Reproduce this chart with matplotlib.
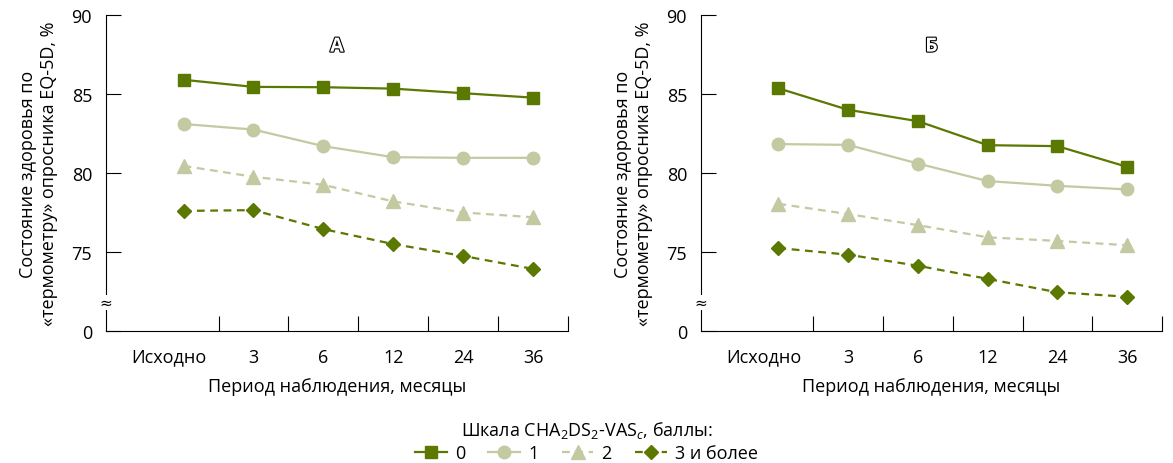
import matplotlib
matplotlib.use('Agg')
import matplotlib.pyplot as plt
import matplotlib.patheffects as pe
import numpy as np

plt.rcParams['font.family'] = ['Open Sans', 'DejaVu Sans']
plt.rcParams['mathtext.fontset'] = 'custom'
plt.rcParams['mathtext.rm'] = 'Open Sans'
plt.rcParams['mathtext.it'] = 'Open Sans:italic'

# data
periods = ['Исходно', '3', '6', '12', '24', '36']
groups = ['0', '1', '2', '3 и более']

panel_a = {
    '0': [85.9, 85.45, 85.43, 85.34, 85.05, 84.77],
    '1': [83.1, 82.75, 81.7, 81.0, 80.96, 80.96],
    '2': [80.45, 79.76, 79.25, 78.2, 77.5, 77.2],
    '3 и более': [77.6, 77.65, 76.45, 75.5, 74.75, 73.93],
}
panel_b = {
    '0': [85.36, 84.0, 83.28, 81.76, 81.7, 80.39],
    '1': [81.83, 81.78, 80.6, 79.49, 79.19, 78.96],
    '2': [78.05, 77.4, 76.7, 75.93, 75.7, 75.43],
    '3 и более': [75.25, 74.83, 74.13, 73.3, 72.45, 72.17],
}
panel_titles = ['А', 'Б']

dark = '#5b7800'
light = '#c3c9a1'
styles = {
    '0': dict(color=dark, marker='s', ms=8.5, ls='-'),
    '1': dict(color=light, marker='o', ms=9, ls='-'),
    '2': dict(color=light, marker='^', ms=9.5, ls=(0, (3.5, 2.5))),
    '3 и более': dict(color=dark, marker='D', ms=7.5, ls=(0, (3.5, 2.5))),
}
fs = 13

fig = plt.figure(figsize=(11.73, 4.64), dpi=100)
ax_a = fig.add_axes([106 / 1173, 132 / 464, 462 / 1173, 316 / 464])
ax_b = fig.add_axes([701 / 1173, 132 / 464, 461 / 1173, 316 / 464])

x = np.arange(len(periods))
label_pos = [-0.21, 1, 2, 3, 4, 5]  # "Исходно" sits a bit left of its marker
handles = []
for ax, data, title in zip([ax_a, ax_b], [panel_a, panel_b], panel_titles):
    for g in groups:
        st = styles[g]
        h, = ax.plot(x, data[g], color=st['color'], marker=st['marker'], ms=st['ms'],
                     ls=st['ls'], lw=1.6, mec=st['color'], label=g)
        if ax is ax_a:
            handles.append(h)
    ax.set_xlim(-1.11, 5.5)
    ax.set_ylim(70, 90)
    for s in ['top', 'right']:
        ax.spines[s].set_visible(False)
    for s in ['left', 'bottom']:
        ax.spines[s].set_linewidth(0.8)
    ax.set_yticks([70, 75, 80, 85, 90])
    ax.set_yticklabels(['0', '75', '80', '85', '90'])
    ax.tick_params(axis='y', direction='in', length=11, width=0.8, pad=10, labelsize=fs)
    ax.set_xticks(label_pos)
    ax.set_xticklabels(periods)
    ax.tick_params(axis='x', which='major', length=0, pad=12, labelsize=fs)
    ax.set_xticks(x + 0.5, minor=True)
    ax.tick_params(axis='x', which='minor', direction='in', length=11, width=0.8)
    ax.set_xlabel('Период наблюдения, месяцы', fontsize=fs, labelpad=8)
    ax.set_ylabel('Состояние здоровья по\n«термометру» опросника EQ-5D, %',
                  fontsize=fs, labelpad=10, linespacing=1.15)
    # axis break mark
    ax.text(0, 71.8, '≈', transform=ax.get_yaxis_transform(), ha='center', va='center',
            fontsize=11, family=['DejaVu Sans'],
            bbox=dict(facecolor='white', edgecolor='none', pad=0.0))
    ax.text(0.5, 0.9, title, transform=ax.transAxes, ha='center', va='center',
            fontsize=14, fontweight='bold', color='white',
            path_effects=[pe.withStroke(linewidth=1.6, foreground='black')])

fig.legend(handles=handles, labels=groups, loc='lower center', bbox_to_anchor=(0.5, -0.025),
           ncol=4, frameon=False, fontsize=fs, handlelength=1.75, columnspacing=1.3,
           title=r'Шкала CHA$_\mathregular{2}$DS$_\mathregular{2}$-VAS$_{c}$, баллы:',
           title_fontsize=fs, borderpad=0.2, labelspacing=0.2, handletextpad=0.45)

fig.savefig('out.png', dpi=100)
